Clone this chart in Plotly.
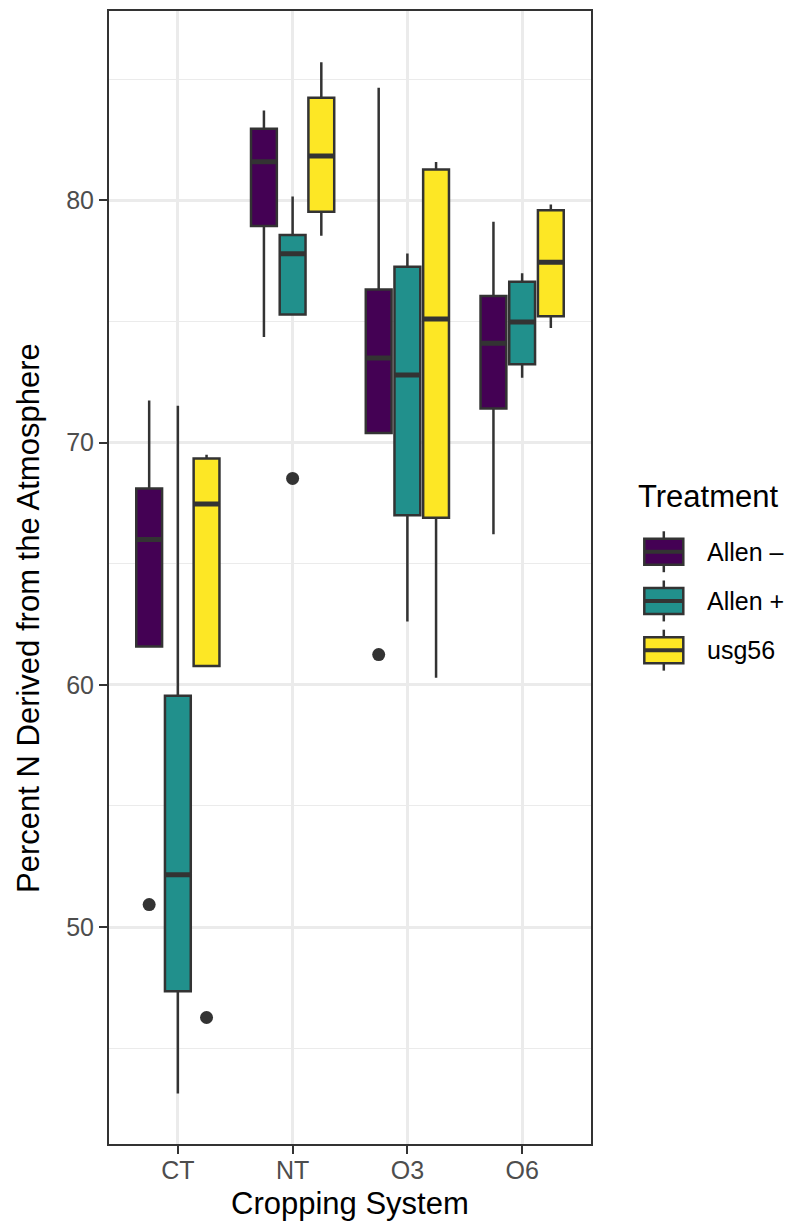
import plotly.graph_objects as go

# ---- data -------------------------------------------------------------
systems = ["CT", "NT", "O3", "O6"]
treatments = ["Allen –", "Allen +", "usg56"]
colors = ["#440154", "#21908C", "#FDE725"]

# box-plot summaries per treatment (one value per cropping system)
allen_minus_lower = [61.58, 74.36, 70.39, 66.21]
allen_minus_q1 = [61.58, 78.94, 70.39, 71.40]
allen_minus_median = [66.00, 81.59, 73.49, 74.10]
allen_minus_q3 = [68.10, 82.95, 76.32, 76.05]
allen_minus_upper = [71.73, 83.70, 84.64, 79.11]

allen_plus_lower = [43.13, 75.28, 62.61, 72.67]
allen_plus_q1 = [47.35, 75.28, 67.00, 73.23]
allen_plus_median = [52.16, 77.79, 72.79, 74.97]
allen_plus_q3 = [59.55, 78.57, 77.26, 76.64]
allen_plus_upper = [71.52, 80.15, 77.80, 76.99]

usg56_lower = [60.78, 78.53, 60.29, 74.73]
usg56_q1 = [60.78, 79.53, 66.90, 75.21]
usg56_median = [67.46, 81.83, 75.10, 77.44]
usg56_q3 = [69.34, 84.23, 81.27, 79.59]
usg56_upper = [69.50, 85.69, 81.58, 79.82]

# outlying observations (system, value)
allen_minus_out_x = ["CT", "O3"]
allen_minus_out_y = [50.93, 61.25]
allen_plus_out_x = ["NT"]
allen_plus_out_y = [68.52]
usg56_out_x = ["CT"]
usg56_out_y = [46.27]

y_ticks = [50, 60, 70, 80]

# ---- styling ----------------------------------------------------------
FONT = "Liberation Sans, Arial, Helvetica, sans-serif"
DARK = "#333333"
GRID = "#EBEBEB"
W, H = 786, 1226
ML, MR, MT, MB = 109, 195, 9, 82
PW, PH = W - ML - MR, H - MT - MB


def px_x(px):
    return (px - ML) / PW


def px_y(py):
    return (H - MB - py) / PH


stats = [
    (allen_minus_lower, allen_minus_q1, allen_minus_median, allen_minus_q3, allen_minus_upper),
    (allen_plus_lower, allen_plus_q1, allen_plus_median, allen_plus_q3, allen_plus_upper),
    (usg56_lower, usg56_q1, usg56_median, usg56_q3, usg56_upper),
]
outliers = [
    (allen_minus_out_x, allen_minus_out_y),
    (allen_plus_out_x, allen_plus_out_y),
    (usg56_out_x, usg56_out_y),
]

fig = go.Figure()

for name, col, (lo, q1, med, q3, hi) in zip(treatments, colors, stats):
    fig.add_trace(go.Box(
        name=name, x=systems, q1=q1, median=med, q3=q3,
        lowerfence=lo, upperfence=hi,
        offsetgroup=name, fillcolor=col,
        line=dict(color=DARK, width=2.5), whiskerwidth=0,
        boxpoints=False, showlegend=False, hoverinfo="skip",
    ))
    # thicker median bar, as in ggplot's fattened median
    fig.add_trace(go.Box(
        name=name, x=systems, q1=med, median=med, q3=med,
        lowerfence=med, upperfence=med,
        offsetgroup=name, fillcolor="rgba(0,0,0,0)",
        line=dict(color=DARK, width=5), whiskerwidth=0,
        boxpoints=False, showlegend=False, hoverinfo="skip",
    ))

for name, (ox, oy) in zip(treatments, outliers):
    fig.add_trace(go.Scatter(
        x=ox, y=oy, mode="markers", offsetgroup=name,
        marker=dict(color=DARK, size=13, line=dict(width=0)),
        showlegend=False, hoverinfo="skip",
    ))

# ---- legend drawn as ggplot-style keys -----------------------------------
shapes = []
annotations = []
key_x0, key_x1 = 644.3, 683.3
key_cx = (key_x0 + key_x1) / 2
row_y = [550.7, 600.0, 649.3]
for name, col, cy in zip(treatments, colors, row_y):
    shapes.append(dict(type="line", xref="paper", yref="paper",
                       x0=px_x(key_cx), x1=px_x(key_cx),
                       y0=px_y(cy - 20.5), y1=px_y(cy + 20.5),
                       line=dict(color=DARK, width=2.5), layer="above"))
    shapes.append(dict(type="rect", xref="paper", yref="paper",
                       x0=px_x(key_x0), x1=px_x(key_x1),
                       y0=px_y(cy - 13), y1=px_y(cy + 13),
                       fillcolor=col, line=dict(color=DARK, width=2.5), layer="above"))
    shapes.append(dict(type="line", xref="paper", yref="paper",
                       x0=px_x(key_x0), x1=px_x(key_x1),
                       y0=px_y(cy), y1=px_y(cy),
                       line=dict(color=DARK, width=4), layer="above"))
    annotations.append(dict(text=name, xref="paper", yref="paper",
                            x=px_x(705), y=px_y(cy), xanchor="left", yanchor="middle",
                            showarrow=False, font=dict(family=FONT, size=25, color="black")))

annotations.append(dict(text="Treatment", xref="paper", yref="paper",
                        x=px_x(636), y=px_y(495), xanchor="left", yanchor="middle",
                        showarrow=False, font=dict(family=FONT, size=31, color="black")))

# axis titles
annotations.append(dict(text="Cropping System", xref="paper", yref="paper",
                        x=0.5, y=px_y(1204), xanchor="center", yanchor="middle",
                        showarrow=False, font=dict(family=FONT, size=31, color="black")))
annotations.append(dict(text="Percent N Derived from the Atmosphere", xref="paper", yref="paper",
                        x=px_x(29), y=px_y(617), xanchor="center", yanchor="middle",
                        textangle=-90, showarrow=False,
                        font=dict(family=FONT, size=31, color="black")))

fig.update_layout(
    width=W, height=H,
    margin=dict(l=ML, r=MR, t=MT, b=MB, pad=0),
    paper_bgcolor="white", plot_bgcolor="white",
    boxmode="group", boxgap=0.25, boxgroupgap=0.1,
    scattermode="group", scattergap=0.25,
    showlegend=False,
    font=dict(family=FONT),
    shapes=shapes, annotations=annotations,
    xaxis=dict(
        type="category", categoryorder="array", categoryarray=systems,
        range=[-0.6, 3.6], showgrid=True, gridcolor=GRID, gridwidth=2.5,
        showline=True, mirror=True, linecolor=DARK, linewidth=2,
        ticks="outside", ticklen=8, tickwidth=2, tickcolor=DARK,
        ticklabelstandoff=-5,
        tickfont=dict(family=FONT, size=25, color="#4D4D4D"),
        zeroline=False,
    ),
    yaxis=dict(
        range=[41.05, 87.81], tickmode="array", tickvals=y_ticks,
        showgrid=True, gridcolor=GRID, gridwidth=2.5,
        minor=dict(tickmode="array", tickvals=[45, 55, 65, 75, 85],
                   showgrid=True, gridcolor=GRID, gridwidth=1.3, ticks=""),
        showline=True, mirror=True, linecolor=DARK, linewidth=2,
        ticks="outside", ticklen=8, tickwidth=2, tickcolor=DARK,
        tickfont=dict(family=FONT, size=25, color="#4D4D4D"),
        zeroline=False,
    ),
)

fig.write_html("out.html")
